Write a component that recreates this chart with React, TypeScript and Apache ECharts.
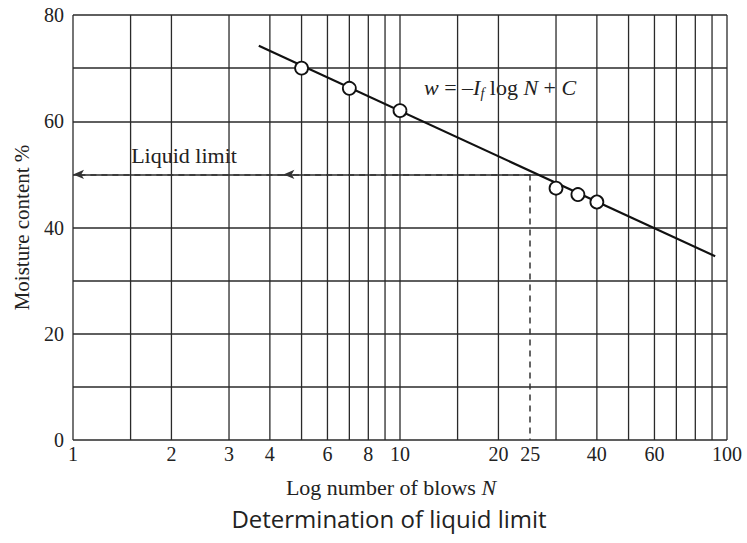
import React, { useEffect, useRef } from "react";
import * as echarts from "echarts";

// Number of blows N at which vertical grid lines are drawn
const gridN = [1, 1.5, 2, 3, 4, 5, 6, 7, 8, 9, 10, 15, 20, 30, 40, 50, 60, 70, 80, 90, 100];
// Tick labels shown on the log axis
const tickN = [1, 2, 3, 4, 6, 8, 10, 20, 25, 40, 60, 100];
// Test points (N, moisture content %)
const pointsN = [5, 7, 10, 30, 35, 40];
const pointsW = [70.0, 66.2, 62.0, 47.4, 46.2, 44.8];
// Fitted flow line end points
const flowN = [3.7, 92];
const flowW = [74.2, 34.6];
// Liquid limit construction
const liquidLimitN = 25;
const liquidLimitW = 50;
const arrowMidN = 4.4;

const SERIF = "'Liberation Serif', 'DejaVu Serif', serif";

export default function App() {
  const ref = useRef<HTMLDivElement>(null);
  useEffect(() => {
    if (!ref.current) return;
    const chart = echarts.init(ref.current, null, { renderer: "svg" });
    const lineColor = "#2a2a2a";
    chart.setOption({
      animation: false,
      backgroundColor: "#ffffff",
      title: {
        text: "Determination of liquid limit",
        left: 384,
        textAlign: "center",
        top: 501,
        textStyle: {
          fontFamily: "'Open Sans', 'Noto Sans', sans-serif",
          fontSize: 24,
          fontWeight: "normal",
          color: "#222",
        },
      },
      grid: { left: 73, right: 20, top: 15, bottom: 103, containLabel: false, outerBoundsMode: "none" },
      xAxis: {
        type: "log",
        logBase: 10,
        min: 1,
        max: 100,
        name: "{t|Log number of blows }{i|N}",
        nameLocation: "middle",
        nameGap: 36,
        nameTextStyle: {
          padding: [0, 18, 0, 0],
          rich: {
            t: { fontFamily: SERIF, fontSize: 22, color: "#222" },
            i: { fontFamily: SERIF, fontSize: 22, fontStyle: "italic", color: "#222" },
          },
        },
        axisLabel: { show: false },
        axisTick: { show: false },
        axisLine: { show: false },
        splitLine: { show: false },
        minorSplitLine: { show: false },
      },
      yAxis: {
        type: "value",
        min: 0,
        max: 80,
        interval: 10,
        name: "Moisture content %",
        nameLocation: "middle",
        nameGap: 41,
        nameTextStyle: { fontFamily: SERIF, fontSize: 21, color: "#222" },
        axisLabel: {
          margin: 9,
          fontFamily: SERIF,
          fontSize: 20,
          color: "#222",
          formatter: (v: number) => (v % 20 === 0 ? String(v) : ""),
        },
        axisTick: { show: false },
        axisLine: { show: false },
        splitLine: { show: true, lineStyle: { color: lineColor, width: 1.6 } },
      },
      graphic: [
        {
          type: "text",
          x: 184,
          y: 155,
          style: {
            text: "Liquid limit",
            fontFamily: SERIF,
            fontSize: 22,
            fill: "#222",
            align: "center",
            verticalAlign: "middle",
          },
        },
        {
          type: "text",
          x: 424,
          y: 87,
          style: {
            text: "{i|w}{t| = –}{i|I}{s|f}{t| log }{i|N}{t| + }{i|C}",
            verticalAlign: "middle",
            rich: {
              i: { fontFamily: SERIF, fontSize: 22, fontStyle: "italic", fill: "#222" },
              t: { fontFamily: SERIF, fontSize: 22, fill: "#222" },
              s: { fontFamily: SERIF, fontSize: 14, fontStyle: "italic", fill: "#222", padding: [12, 0, 0, 0] },
            },
          },
        },
      ],
      series: [
        {
          type: "custom",
          name: "grid",
          silent: true,
          z: 1,
          data: gridN.map((n) => [n]),
          renderItem: (params: any, api: any) => {
            const n = api.value(0);
            const a = api.coord([n, 0]);
            const b = api.coord([n, 80]);
            return {
              type: "line",
              shape: { x1: a[0], y1: a[1], x2: b[0], y2: b[1] },
              style: { stroke: lineColor, lineWidth: 1.3 },
            };
          },
        },
        {
          type: "custom",
          name: "ticks",
          silent: true,
          data: tickN.map((n) => [n]),
          renderItem: (params: any, api: any) => {
            const n = api.value(0);
            const a = api.coord([n, 0]);
            return {
              type: "text",
              x: a[0],
              y: a[1] + 4,
              style: {
                text: String(n),
                fontFamily: SERIF,
                fontSize: 20,
                fill: "#222",
                align: "center",
                verticalAlign: "top",
              },
            };
          },
        },
        {
          type: "line",
          name: "flow",
          z: 3,
          data: flowN.map((n, i) => [n, flowW[i]]),
          showSymbol: false,
          symbol: "none",
          lineStyle: { color: "#111", width: 2.2 },
          markLine: {
            silent: true,
            symbol: "none",
            label: { show: false },
            lineStyle: { color: "#333", width: 1.5, type: [6, 5] },
            data: [
              [
                { coord: [liquidLimitN, liquidLimitW], symbol: "none" },
                { coord: [arrowMidN, liquidLimitW], symbol: "arrow", symbolSize: [7, 11] },
              ],
              [
                { coord: [arrowMidN, liquidLimitW], symbol: "none" },
                { coord: [1, liquidLimitW], symbol: "arrow", symbolSize: [7, 11] },
              ],
              [
                { coord: [liquidLimitN, liquidLimitW], symbol: "none" },
                { coord: [liquidLimitN, 0], symbol: "none" },
              ],
            ],
          },
        },
        {
          type: "scatter",
          name: "tests",
          z: 4,
          data: pointsN.map((n, i) => [n, pointsW[i]]),
          symbol: "circle",
          symbolSize: 13,
          itemStyle: { color: "#ffffff", opacity: 1, borderColor: "#111", borderWidth: 1.8 },
        },
      ],
    });
    return () => chart.dispose();
  }, []);
  return (
    <div
      ref={ref}
      style={{ position: "fixed", left: 0, top: 0, width: 747, height: 543 }}
    />
  );
}
